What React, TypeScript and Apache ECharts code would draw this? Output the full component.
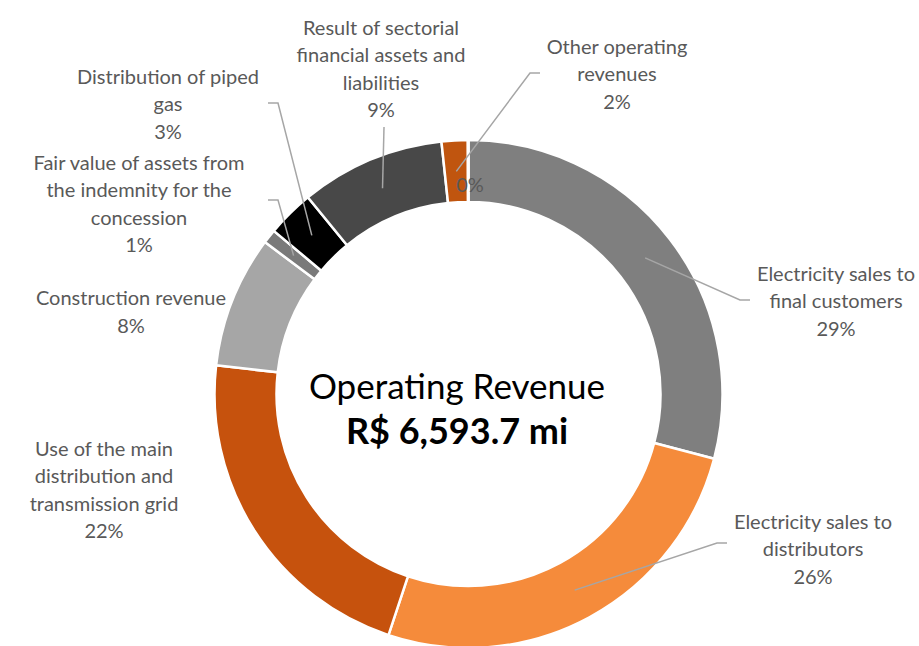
import React, { useEffect, useRef } from "react";
import * as echarts from "echarts";

// Data (R$ million; total 6,593.7)
const categories = [
  "Electricity sales to\nfinal customers",
  "Electricity sales to\ndistributors",
  "Use of the main\ndistribution and\ntransmission grid",
  "Construction revenue",
  "Fair value of assets from\nthe indemnity for the\nconcession",
  "Distribution of piped\ngas",
  "Result of sectorial\nfinancial assets and\nliabilities",
  "Other operating\nrevenues",
  "",
];
const values = [1918.8, 1714.4, 1430.8, 553.9, 59.3, 197.8, 606.6, 109.5, 2.6];
const colors = [
  "#7F7F7F",
  "#F58B3B",
  "#C6520D",
  "#A6A6A6",
  "#7A7A7A",
  "#000000",
  "#484848",
  "#C0550F",
  "#A5A5A5",
];
const centerTitle = "Operating Revenue";
const centerValue = "R$ 6,593.7 mi";

// Layout (pixels)
const CX = 468.5;
const CY = 394;
const R_IN = 192;
const R_OUT = 254;
const R_MID = (R_IN + R_OUT) / 2;

// label block centers and leader-line elbows (null = no leader line)
const labelPos: [number, number][] = [
  [836, 300],
  [813, 548],
  [104, 489],
  [131, 311],
  [139, 203],
  [168, 103],
  [381, 68],
  [617, 73],
  [470, 184],
];
const elbows: ([number, number][] | null)[] = [
  [[740, 300], [750, 300]],
  [[717, 543], [727, 543]],
  null,
  null,
  [[278, 200], [268, 200]],
  [[278, 103], [268, 103]],
  [[384, 127], [384, 127]],
  [[530, 73], [540, 73]],
  null,
];

export default function App() {
  const ref = useRef<HTMLDivElement>(null);
  useEffect(() => {
    document.body.style.margin = "0";
    const chart = echarts.init(ref.current!, null, { renderer: "svg" });
    const total = values.reduce((a, b) => a + b, 0);
    const anchors: [number, number][] = [];
    let cum = 0;
    values.forEach((v) => {
      const mid = ((cum + v / 2) / total) * Math.PI * 2;
      anchors.push([CX + R_MID * Math.sin(mid), CY - R_MID * Math.cos(mid)]);
      cum += v;
    });

    const base = {
      type: "pie",
      center: [CX, CY],
      radius: [R_IN, R_OUT],
      startAngle: 90,
      clockwise: true,
      avoidLabelOverlap: false,
      silent: true,
    };

    chart.setOption({
      animation: false,
      backgroundColor: "#ffffff",
      graphic: [
        {
          type: "text",
          x: 457,
          y: 385,
          style: {
            text: centerTitle,
            font: "normal 35px Lato",
            fill: "#000000",
            textAlign: "center",
            textVerticalAlign: "middle",
          },
        },
        {
          type: "text",
          x: 457,
          y: 430,
          style: {
            text: centerValue,
            font: "bold 36px Lato",
            fill: "#000000",
            textAlign: "center",
            textVerticalAlign: "middle",
          },
        },
      ],
      series: [
        {
          ...base,
          z: 2,
          itemStyle: { borderColor: "#ffffff", borderWidth: 2.5 },
          label: { show: false },
          labelLine: { show: false },
          data: values.map((v, i) => ({
            name: categories[i],
            value: v,
            itemStyle: { color: colors[i] },
          })),
        },
        {
          ...base,
          z: 5,
          itemStyle: { color: "rgba(0,0,0,0)", borderWidth: 0 },
          label: {
            show: true,
            color: "#595959",
            fontFamily: "Lato",
            fontSize: 20,
            lineHeight: 27.5,
            align: "center",
            formatter: (p: any) =>
              (p.name ? p.name + "\n" : "") + Math.round(p.percent) + "%",
          },
          labelLine: {
            show: true,
            showAbove: true,
            lineStyle: { color: "#A6A6A6", width: 1.5 },
          },
          labelLayout: (params: any) => {
            const i = params.dataIndex;
            const [x, y] = labelPos[i];
            const e = elbows[i];
            const out: any = { x, y, align: "center", verticalAlign: "middle", hideOverlap: false };
            if (e) out.labelLinePoints = [anchors[i], e[0], e[1]];
            return out;
          },
          data: values.map((v, i) => ({
            name: categories[i],
            value: v,
            labelLine: { show: elbows[i] !== null },
          })),
        },
      ],
    });
    return () => chart.dispose();
  }, []);
  return (
    <div
      ref={ref}
      style={{ position: "fixed", left: 0, top: 0, width: 919, height: 646 }}
    />
  );
}
